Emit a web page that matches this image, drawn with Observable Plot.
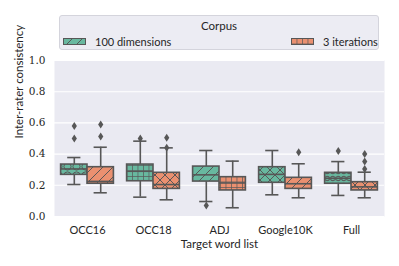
<!DOCTYPE html>
<html><head><meta charset="utf-8">
<script src="https://cdn.jsdelivr.net/npm/d3@7"></script>
<script src="https://cdn.jsdelivr.net/npm/@observablehq/plot@0.6"></script>
<style>
body{margin:0;background:#fff;font-family:Lato,"DejaVu Sans",sans-serif;color:#262626;}
#wrap{position:relative;width:399px;height:266px;overflow:hidden;}
#legend{position:absolute;left:59px;top:15px;width:320px;height:35px;background:#ececf3;border:1px solid #d4d4dc;border-radius:3px;box-sizing:border-box;}
.lt{position:absolute;font-size:11px;white-space:nowrap;line-height:12px;}
.sw{position:absolute;width:23px;height:7px;}
#chart{position:absolute;left:0;top:0;}
</style></head>
<body>
<svg width="0" height="0" style="position:absolute">
<defs>
<pattern id="h-slash" width="10" height="10" patternUnits="userSpaceOnUse">
<path d="M-1,1 L1,-1 M0,10 L10,0 M9,11 L11,9" stroke="#575757" stroke-width="1"/></pattern>
<pattern id="h-x" width="10" height="10" patternUnits="userSpaceOnUse">
<path d="M-1,1 L1,-1 M0,10 L10,0 M9,11 L11,9 M-1,9 L1,11 M0,0 L10,10 M9,-1 L11,1" stroke="#575757" stroke-width="1"/></pattern>
<pattern id="h-plus" width="5.5" height="5.5" patternUnits="userSpaceOnUse">
<path d="M0,0 L5.5,0 M0,0 L0,5.5" stroke="#575757" stroke-width="1.4"/></pattern>
<pattern id="h-o" width="9" height="9" patternUnits="userSpaceOnUse">
<circle cx="4.5" cy="4.5" r="3.6" fill="none" stroke="#575757" stroke-width="1"/></pattern>
<pattern id="h-o2" width="5.5" height="7" patternUnits="userSpaceOnUse">
<circle cx="2.75" cy="3.5" r="2.2" fill="none" stroke="#575757" stroke-width="1"/></pattern>
</defs></svg>
<div id="wrap">
<div id="chart"></div>
<div id="legend">
<div class="lt" style="left:0;width:318px;text-align:center;top:4px;font-size:11.5px">Corpus</div>
<svg class="sw" style="left:3px;top:22px" width="23" height="7"><rect x="0.5" y="0.5" width="22" height="6" fill="#68b89f"/><rect x="0.5" y="0.5" width="22" height="6" fill="url(#h-slash)" stroke="#575757"/></svg>
<div class="lt" style="left:35px;top:20px">100 dimensions</div>
<svg class="sw" style="left:231px;top:22px" width="23" height="7"><rect x="0.5" y="0.5" width="22" height="6" fill="#ea9070"/><rect x="0.5" y="0.5" width="22" height="6" fill="url(#h-plus)" stroke="#575757"/></svg>
<div class="lt" style="left:263px;top:20px">3 iterations</div>
</div>
</div>
<script>
const categories = ["OCC16", "OCC18", "ADJ", "Google10K", "Full"];
const corpora = ["100 dimensions", "3 iterations"];
const colors = ["#68b89f", "#ea9070"];
const yTicks = [0, 0.2, 0.4, 0.6, 0.8, 1.0];

// 100 dimensions (green)
const dimLow    = [0.205, 0.124, 0.096, 0.139, 0.135];
const dimQ1     = [0.267, 0.226, 0.224, 0.216, 0.210];
const dimMedian = [0.305, 0.290, 0.267, 0.270, 0.245];
const dimQ3     = [0.333, 0.333, 0.320, 0.316, 0.280];
const dimHigh   = [0.378, 0.483, 0.423, 0.423, 0.352];
const dimOutliers = [[0.58, 0.50], [0.50], [0.07], [], [0.42]];
const dimHatch  = ["h-o", "h-plus", "h-slash", "h-x", "h-o2"];

// 3 iterations (orange)
const itLow    = [0.152, 0.107, 0.056, 0.120, 0.120];
const itQ1     = [0.210, 0.177, 0.167, 0.177, 0.167];
const itMedian = [0.225, 0.205, 0.215, 0.210, 0.190];
const itQ3     = [0.316, 0.280, 0.252, 0.248, 0.220];
const itHigh   = [0.444, 0.440, 0.355, 0.338, 0.284];
const itOutliers = [[0.59, 0.513], [0.505, 0.44], [], [0.412], [0.40, 0.352, 0.305]];
const itHatch  = ["h-slash", "h-x", "h-plus", "h-slash", "h-x"];

const series = [
  {lo: dimLow, q1: dimQ1, med: dimMedian, q3: dimQ3, hi: dimHigh, out: dimOutliers, hatch: dimHatch},
  {lo: itLow, q1: itQ1, med: itMedian, q3: itQ3, hi: itHigh, out: itOutliers, hatch: itHatch}
];

const edge = "#575757";
const band = 330 / categories.length;
const boxW = band * 0.4;
const pad = band * 0.1;

const thinDiamond = {
  draw(ctx) { ctx.moveTo(0, -4); ctx.lineTo(2.6, 0); ctx.lineTo(0, 4); ctx.lineTo(-2.6, 0); ctx.closePath(); }
};

const marks = [
  Plot.frame({fill: "#eaeaf2", stroke: null}),
  Plot.gridY(yTicks, {stroke: "white", strokeOpacity: 1, strokeWidth: 1.1})
];

series.forEach((s, k) => {
  const rows = categories.map((c, i) => ({cat: c, lo: s.lo[i], q1: s.q1[i], med: s.med[i], q3: s.q3[i], hi: s.hi[i], hatch: `url(#${s.hatch[i]})`, fill: colors[k]}));
  const outs = categories.flatMap((c, i) => s.out[i].map(v => ({cat: c, v})));
  const boxL = k === 0 ? pad : pad + boxW;
  const boxR = band - boxL - boxW;
  const center = boxL + boxW / 2;
  const capL = center - boxW / 4, capR = band - center - boxW / 4;
  const dx = center - band / 2;
  marks.push(
    Plot.ruleX(rows, {x: "cat", y1: "lo", y2: "q1", dx, stroke: edge, strokeWidth: 1.6}),
    Plot.ruleX(rows, {x: "cat", y1: "q3", y2: "hi", dx, stroke: edge, strokeWidth: 1.6}),
    Plot.tickY(rows, {x: "cat", y: "lo", insetLeft: capL, insetRight: capR, stroke: edge, strokeWidth: 1.6}),
    Plot.tickY(rows, {x: "cat", y: "hi", insetLeft: capL, insetRight: capR, stroke: edge, strokeWidth: 1.6}),
    Plot.barY(rows, {x: "cat", y1: "q1", y2: "q3", insetLeft: boxL, insetRight: boxR, fill: "fill"}),
    Plot.barY(rows, {x: "cat", y1: "q1", y2: "q3", insetLeft: boxL, insetRight: boxR, fill: "hatch"}),
    Plot.tickY(rows, {x: "cat", y: "med", insetLeft: boxL, insetRight: boxR, stroke: edge, strokeWidth: 1.6}),
    Plot.barY(rows, {x: "cat", y1: "q1", y2: "q3", insetLeft: boxL, insetRight: boxR, fill: "none", stroke: edge, strokeWidth: 1.6}),
    Plot.dot(outs, {x: "cat", y: "v", dx, symbol: thinDiamond, fill: edge, stroke: null})
  );
});

marks.push(
  Plot.axisY(yTicks, {tickSize: 0, tickPadding: 9, tickFormat: d3.format(".1f"), fontFamily: "'DejaVu Serif', 'Liberation Serif', serif", fontSize: 10.5, label: null}),
  Plot.axisX({tickSize: 0, tickPadding: 10, fontSize: 11, label: null}),
  Plot.text(["Target word list"], {frameAnchor: "bottom", dy: 28, fontSize: 11.5, lineAnchor: "middle"}),
  Plot.text(["Inter-rater consistency"], {frameAnchor: "left", dx: -35, rotate: -90, fontSize: 11.5, lineAnchor: "middle"})
);

const chart = Plot.plot({
  width: 399, height: 266,
  marginLeft: 54, marginRight: 15, marginTop: 60, marginBottom: 50,
  style: {fontFamily: "Lato, 'DejaVu Sans', sans-serif", color: "#262626", background: "transparent"},
  x: {domain: categories, padding: 0},
  y: {domain: [0, 1]},
  color: {type: "identity"},
  marks
});
document.getElementById("chart").appendChild(chart);
</script>
</body></html>
